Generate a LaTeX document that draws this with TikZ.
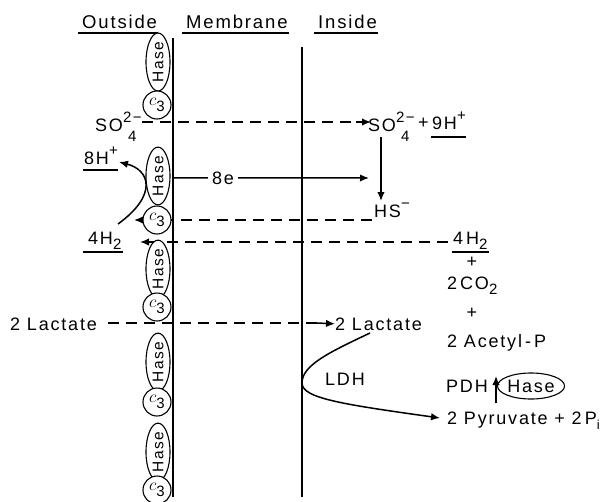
\documentclass[tikz,border=0pt]{standalone}
\usepackage{fontspec}
\setmainfont{Liberation Sans}[LetterSpace=10]
\usetikzlibrary{shapes.geometric,arrows.meta}

% small raised / lowered pieces of chemical formulae
\newcommand{\hiup}[1]{\raisebox{0.5em}{\fontsize{15}{15}\selectfont #1}}
\newcommand{\lodown}[1]{\raisebox{-0.3em}{\fontsize{15}{15}\selectfont #1}}
\newcommand{\sulfate}{SO\rlap{\hiup{2−}}\hspace{5pt}\raisebox{-0.6em}{\fontsize{15}{15}\selectfont 4}}

\begin{document}
\begin{tikzpicture}[x=1pt,y=-1pt,
  txt/.style={inner sep=0pt, font=\fontsize{18}{20}\selectfont},
  head/.style={inner sep=0pt, font=\fontsize{18.5}{20}\selectfont},
  hase/.style={ellipse, draw, fill=white, line width=1.1pt, inner sep=0pt,
    minimum width=24pt, minimum height=54pt,
    font=\fontsize{15.5}{16}\selectfont},
  cyt/.style={circle, draw, fill=white, line width=1.1pt, inner sep=0pt,
    minimum size=28pt, font=\fontsize{18}{18}\selectfont},
  arr/.style={-{Latex[length=9pt,width=7.5pt]}, line width=1.5pt},
  dsh/.style={dash pattern=on 11pt off 7pt, line width=1.6pt},
  uline/.style={line width=1.4pt}]
\useasboundingbox (0,0) rectangle (608,501);

% ---- column headings
\node[head, anchor=base west] (hout) at (82,28) {Outside};
\node[head, anchor=base west] (hmem) at (186,28) {Membrane};
\node[head, anchor=base west] (hin) at (318,28) {Inside};
\foreach \h in {hout,hmem,hin}
  \draw[uline] ([shift={(-4,5)}]\h.base west) -- ([shift={(1,5)}]\h.base east);

% ---- labels
\node[txt, anchor=base west] (so4out) at (95,131) {\sulfate};
\node[txt, anchor=base west] (so4in) at (368,131) {\sulfate};
\node[txt, anchor=base west] (plus9) at (418,128) {+};
\node[txt, anchor=base west] (h9) at (432,129) {9H\hiup{+}};
\draw[uline] ([shift={(-1,8)}]h9.base west) -- ([shift={(0,8)}]h9.base east);

\node[txt, anchor=base west] (h8) at (84,164) {8H\hiup{+}};
\draw[uline] ([shift={(-1,6)}]h8.base west) -- ([shift={(0,6)}]h8.base east);

\node[txt, anchor=base, inner sep=4pt] (e8) at (223,184) {8e};
\node[txt, anchor=base west] (hs) at (374,217) {HS\hiup{−}};

\node[txt, anchor=base west] (h4out) at (88,244) {4H\lodown{2}};
\draw[uline] ([shift={(-5,8)}]h4out.base west) -- ([shift={(1,8)}]h4out.base east);
\node[txt, anchor=base west] (h4in) at (453,244) {4\,H\lodown{2}};
\draw[uline] ([shift={(-1,8)}]h4in.base west) -- ([shift={(1,8)}]h4in.base east);

\node[txt] (p1) at (472,262) {+};
\node[txt, anchor=base west] (co2) at (447,289) {2\,CO\lodown{2}};
\node[txt] (p2) at (472,313) {+};
\node[txt, anchor=base west] (acp) at (447,347) {2 Acetyl\,-\,P};
\node[txt, anchor=base west] (pdh) at (446,392) {PDH};
\node[hase, minimum width=58pt, minimum height=26pt, font=\fontsize{18}{18}\selectfont]
  (hase6) at (531,386) {Hase};
\node[txt, anchor=base west] (pyr) at (447,424) {2 Pyruvate + 2\,P\lodown{\fontsize{13}{13}\selectfont i}};

\node[txt, anchor=base west] (lacout) at (10,330) {2 Lactate};
\node[txt, anchor=base west] (lacin) at (335,330) {2 Lactate};
\node[txt, anchor=base west] (ldh) at (325,385) {LDH};

% ---- connectors behind the membrane proteins
\coordinate (sotip) at (371,122);
\draw[dsh] (142,122) -- (356,122);
\draw[arr] (356,122) -- (sotip);

\draw[line width=1.5pt] (173,178) -- (e8.west);
\draw[arr] (e8.east) -- (369,178);

\draw[arr] (381,137) -- (381,201);

\coordinate (hsend) at (372,220);
\draw[dsh] (hsend) -- (150,220);
\draw[arr] (150,220) -- (134,220);

\coordinate (h4a) at (448,242);
\draw[dsh] (h4a) -- (158,242);
\draw[arr] (158,242) -- (140,242);

\coordinate (lacstart) at (108,323);
\draw[dsh] (lacstart) -- (317,323);
\draw[arr] (317,323) -- (lacin.west);

% ---- membrane proteins on the outer face
\node[hase, minimum height=58pt] (hase1) at (158,62) {\rotatebox{90}{Hase}};
\node[cyt] (c1) at (157,105) {$c$\lodown{3}};
\node[hase, minimum height=50pt] (hase2) at (158,176) {\rotatebox{90}{Hase}};
\node[cyt] (c2) at (157,220) {$c$\lodown{3}};
\node[hase, minimum height=50pt] (hase3) at (158,269) {\rotatebox{90}{Hase}};
\node[cyt] (c3) at (157,307) {$c$\lodown{3}};
\node[hase, minimum height=55pt] (hase4) at (158,362) {\rotatebox{90}{Hase}};
\node[cyt] (c4) at (157,402) {$c$\lodown{3}};
\node[hase, minimum height=50pt] (hase5) at (158,452) {\rotatebox{90}{Hase}};
\node[cyt] (c5) at (157,490) {$c$\lodown{3}};

% ---- the two faces of the membrane
\coordinate (outtop) at (173,38);
\coordinate (outbot) at (173,497);
\coordinate (intop) at (302,47);
\coordinate (inbot) at (302,497);
\draw[line width=2.6pt] (outtop) -- (outbot);
\draw[line width=1.8pt] (intop) -- (inbot);

% ---- 4 H2 -> 8 H+ at the hydrogenase
\coordinate (h2start) at (118,224);
\draw[arr] (h2start) .. controls (158,195) and (150,170) .. (119,162);

% ---- lactate dehydrogenase loop
\coordinate (ldhstart) at (370,333);
\coordinate (ldhturn) at (302,383);
\draw[arr] (ldhstart) .. controls (330,352) and (302,365) .. (ldhturn)
  .. controls (302,398) and (340,404) .. (440,418);

% ---- pyruvate dehydrogenase step
\draw[arr] (496,403) -- (496,376);
\end{tikzpicture}
\end{document}
